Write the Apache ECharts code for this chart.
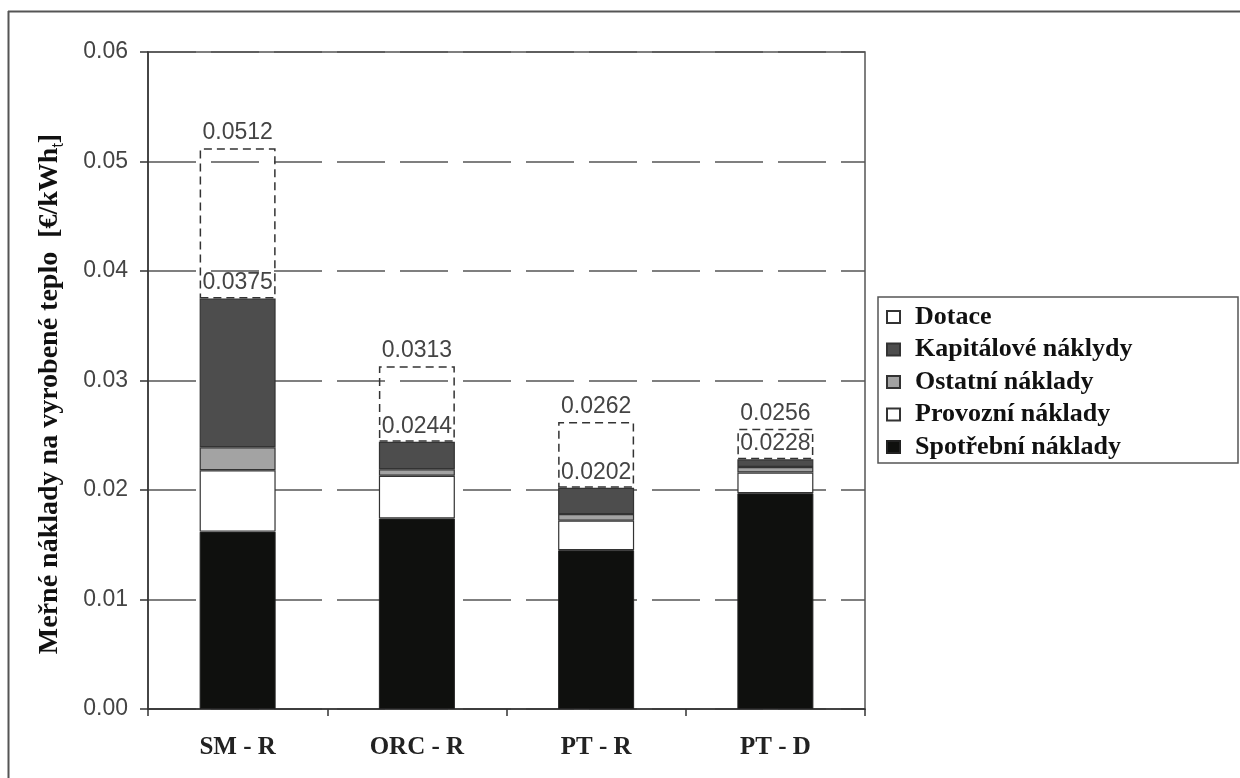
<!DOCTYPE html>
<html>
<head>
<meta charset="utf-8">
<script src="https://cdn.jsdelivr.net/npm/echarts@6/dist/echarts.min.js"></script>
<style>
html,body{margin:0;padding:0;background:#fff;}
#chart{width:1240px;height:778px;}
</style>
</head>
<body>
<div id="chart"></div>
<script>
const categories = ['SM - R', 'ORC - R', 'PT - R', 'PT - D'];
const spotrebni = [0.0162, 0.0174, 0.0145, 0.0197];
const provozni = [0.0056, 0.0039, 0.0027, 0.0019];
const ostatni = [0.0021, 0.0006, 0.0006, 0.0005];
const kapitalove = [0.0136, 0.0025, 0.0024, 0.0007];
const dotace = [0.0137, 0.0069, 0.0060, 0.0028];
const yTicks = [0, 0.01, 0.02, 0.03, 0.04, 0.05, 0.06];

const seriesNames = ['Spotřební náklady', 'Provozní náklady', 'Ostatní náklady', 'Kapitálové náklydy', 'Dotace'];

const sumNoDot = categories.map((c, i) => spotrebni[i] + provozni[i] + ostatni[i] + kapitalove[i]);
const sumAll = categories.map((c, i) => sumNoDot[i] + dotace[i]);

const chart = echarts.init(document.getElementById('chart'), null, {renderer: 'canvas'});

const labelStyle = {
  show: true,
  position: 'top',
  distance: 4,
  fontFamily: 'Liberation Sans',
  fontSize: 23,
  color: '#444'
};

const barBase = {
  type: 'bar',
  stack: 'total',
  barWidth: 76,
  emphasis: {disabled: true}
};

const option = {
  animation: false,
  backgroundColor: '#fff',
  grid: {
    left: 148, right: 375, top: 52, bottom: 69,
    show: true, borderColor: '#555', borderWidth: 1.5, backgroundColor: 'transparent'
  },
  legend: {
    orient: 'vertical',
    left: 886, top: 304,
    padding: 0,
    icon: 'rect',
    itemWidth: 13, itemHeight: 12,
    itemGap: 6.5,
    data: ['Dotace', 'Kapitálové náklydy', 'Ostatní náklady', 'Provozní náklady', 'Spotřební náklady'],
    textStyle: {
      fontFamily: 'Liberation Serif', fontWeight: 'bold', fontSize: 26, color: '#111',
      padding: [0, 0, 0, 10], lineHeight: 26
    },
    selectedMode: false
  },
  xAxis: {
    type: 'category',
    data: categories,
    axisLine: {lineStyle: {color: '#333', width: 1.5}},
    axisTick: {show: true, length: 7, lineStyle: {color: '#333', width: 1.5}},
    axisLabel: {
      fontFamily: 'Liberation Serif', fontWeight: 'bold', fontSize: 25, color: '#222', margin: 26
    }
  },
  yAxis: {
    type: 'value',
    min: 0, max: 0.06, interval: 0.01,
    axisLine: {show: true, lineStyle: {color: '#333', width: 1.5}},
    axisTick: {show: true, length: 8, lineStyle: {color: '#333', width: 1.5}},
    axisLabel: {
      fontFamily: 'Liberation Sans', fontSize: 23, color: '#444', margin: 20,
      formatter: v => v.toFixed(2)
    },
    splitLine: {show: true, lineStyle: {color: '#555', width: 1.5, type: [48, 15]}}
  },
  series: [
    Object.assign({}, barBase, {
      name: seriesNames[0], data: spotrebni,
      itemStyle: {color: '#0f100e', borderColor: '#222', borderWidth: 1}
    }),
    Object.assign({}, barBase, {
      name: seriesNames[1], data: provozni,
      itemStyle: {color: '#ffffff', borderColor: '#333', borderWidth: 1.2}
    }),
    Object.assign({}, barBase, {
      name: seriesNames[2], data: ostatni,
      itemStyle: {color: '#a3a3a3', borderColor: '#333', borderWidth: 1.2}
    }),
    Object.assign({}, barBase, {
      name: seriesNames[3], data: kapitalove,
      itemStyle: {color: '#4d4d4d', borderColor: '#333', borderWidth: 1.2},
      label: Object.assign({}, labelStyle, {
        formatter: p => sumNoDot[p.dataIndex].toFixed(4)
      })
    }),
    Object.assign({}, barBase, {
      name: seriesNames[4], data: dotace,
      itemStyle: {color: 'rgba(255,255,255,0)', borderColor: '#333', borderWidth: 1.5, borderType: [8, 5]},
      label: Object.assign({}, labelStyle, {
        formatter: p => sumAll[p.dataIndex].toFixed(4)
      })
    })
  ],
  graphic: [
    {
      type: 'line', silent: true,
      shape: {x1: 8, y1: 11.5, x2: 1240, y2: 11.5},
      style: {stroke: '#555', lineWidth: 2}
    },
    {
      type: 'line', silent: true,
      shape: {x1: 8.5, y1: 11, x2: 8.5, y2: 778},
      style: {stroke: '#555', lineWidth: 2}
    },
    {
      type: 'rect', silent: true,
      shape: {x: 878, y: 297, width: 360, height: 166},
      style: {fill: 'none', stroke: '#555', lineWidth: 1.5}
    },
    {
      type: 'text', silent: true,
      x: 50, y: 394, rotation: Math.PI / 2,
      style: {
        text: '{a|Meřné náklady na vyrobené teplo  [€/kWh}{s|t}{a|]}',
        align: 'center', verticalAlign: 'middle',
        fill: '#111',
        rich: {
          a: {fontFamily: 'Liberation Serif', fontWeight: 'bold', fontSize: 28, lineHeight: 34, verticalAlign: 'middle', fill: '#111'},
          s: {fontFamily: 'Liberation Sans', fontSize: 16, lineHeight: 34, verticalAlign: 'bottom', fill: '#111', padding: [0, 0, 0, 0]}
        }
      }
    }
  ]
};

chart.setOption(option);
</script>
</body>
</html>
